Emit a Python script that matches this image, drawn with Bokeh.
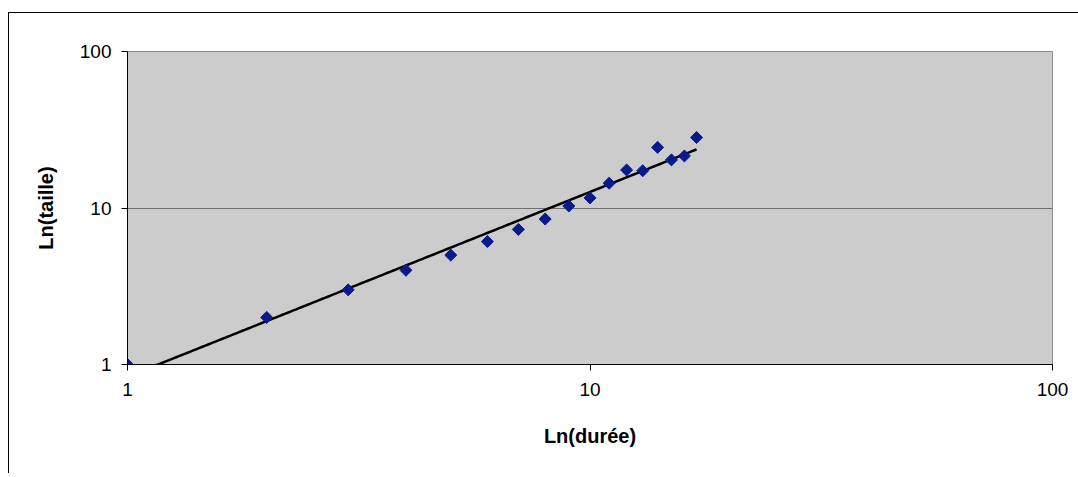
import numpy as np
from bokeh.plotting import figure
from bokeh.models import FixedTicker
from bokeh.embed import file_html
from bokeh.resources import INLINE

# Data
duree = [1, 2, 3, 4, 5, 6, 7, 8, 9, 10, 11, 12, 13, 14, 15, 16, 17]
taille = [1.0, 2.0, 3.0, 4.0, 5.0, 6.1, 7.3, 8.5, 10.3, 11.6, 14.4, 17.5, 17.3, 24.4, 20.3, 21.5, 28.2]
tick_values = [1, 10, 100]
tick_labels = ["1", "10", "100"]
x_title = "Ln(durée)"
y_title = "Ln(taille)"

# Power trend line (least squares in log-log space)
lx = np.log10(np.array(duree, dtype=float))
ly = np.log10(np.array(taille, dtype=float))
b, loga = np.polyfit(lx, ly, 1)
xt = np.geomspace(min(duree), max(duree), 200)
yt = (10 ** loga) * xt ** b

p = figure(
    frame_width=925, frame_height=313,
    x_axis_type="log", y_axis_type="log",
    x_range=(1, 100), y_range=(1, 100),
    output_backend="svg", toolbar_location=None,
    min_border_left=118, min_border_right=26,
    min_border_top=38, min_border_bottom=109,
)
p.styles = {"border-left": "1px solid black", "border-top": "1px solid black",
            "margin-left": "8px", "margin-top": "12px"}
p.background_fill_color = "#CCCCCC"
p.border_fill_color = "white"
p.outline_line_color = "#8C8C8C"
p.outline_line_width = 1

p.line(xt, yt, line_color="black", line_width=2.5)
p.scatter(duree, taille, marker="square", angle=np.pi / 4, size=8.5,
          fill_color="#0A1A8C", line_color="#0A1A8C")

font = "Liberation Sans"
for ax in (p.xaxis[0], p.yaxis[0]):
    ax.ticker = FixedTicker(ticks=tick_values)
    ax.major_label_overrides = {v: l for v, l in zip(tick_values, tick_labels)}
    ax.minor_tick_line_color = None
    ax.major_tick_in = 0
    ax.major_tick_out = 6
    ax.axis_line_color = "black"
    ax.major_tick_line_color = "black"
    ax.major_label_text_font = font
    ax.major_label_text_font_size = "19px"
    ax.major_label_text_color = "black"
    ax.axis_label_text_font = font
    ax.axis_label_text_font_size = "20px"
    ax.axis_label_text_font_style = "bold"
    ax.axis_label_text_color = "black"

p.xaxis.axis_label = x_title
p.yaxis.axis_label = y_title
p.xaxis.major_label_standoff = 12
p.yaxis.major_label_standoff = 10
p.xaxis.axis_label_standoff = 26
p.yaxis.axis_label_standoff = 20

p.xgrid.grid_line_color = None
p.ygrid.ticker = FixedTicker(ticks=tick_values)
p.ygrid.grid_line_color = "#6E6E6E"
p.ygrid.grid_line_width = 1

open("out.html", "w").write(file_html(p, INLINE))
